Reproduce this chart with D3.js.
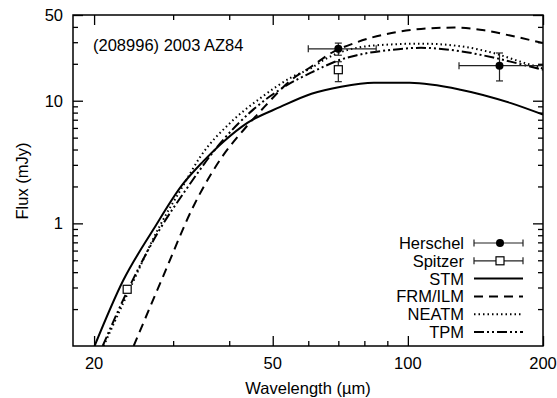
<!DOCTYPE html>
<html><head><meta charset="utf-8">
<script src="https://cdn.jsdelivr.net/npm/d3@7"></script>
<style>
body{margin:0;background:#fff;}
text{font-family:"Liberation Sans",Arial,Helvetica,sans-serif;fill:#000;}
</style></head>
<body><svg id="c" width="557" height="398"></svg>
<script>
// ---- data ----
const stmWave = [20.05, 23.2, 27.1, 31.4, 35, 39, 43.9, 52, 61, 71, 84, 101, 131, 169, 200];
const stmFlux = [0.1, 0.34, 0.89, 2.05, 3.2, 4.7, 6.6, 8.9, 11.4, 13.0, 14.0, 14.0, 12.3, 9.6, 7.7];
const frmWave = [24.5, 28.5, 33.3, 38.6, 43.1, 47.9, 55, 61, 67.5, 77, 92, 107, 127, 148, 169, 200];
const frmFlux = [0.1, 0.37, 1.38, 3.5, 5.8, 8.9, 14.8, 19, 24.5, 30, 35.7, 38.5, 39.5, 37.5, 34, 29.5];
const neatmWave = [21.0, 24, 28, 31.5, 34.5, 40.2, 47.1, 55, 61, 65, 70, 77, 92, 107, 131, 155, 179, 200];
const neatmFlux = [0.1, 0.29, 0.95, 2.0, 3.5, 6.6, 10.6, 15.5, 18.5, 21.5, 24.5, 27, 28.8, 29.2, 27.8, 24.5, 20.7, 18.3];
const tpmWave = [20.9, 23.6, 28, 32.1, 38.3, 45.3, 54, 61, 65, 70, 77, 92, 107, 131, 155, 179, 200];
const tpmFlux = [0.1, 0.27, 0.89, 1.9, 4.55, 8.5, 13.5, 17, 19, 21.3, 23.5, 26, 27, 25.3, 22.5, 19.8, 17.9];

const herschelWave = [70, 160];
const herschelFlux = [26.5, 19.3];
const herschelFluxLo = [23.5, 14.5];
const herschelFluxHi = [29.5, 24.5];
const herschelWaveLo = [60, 130];
const herschelWaveHi = [85, 240];

const spitzerWave = [23.7, 70];
const spitzerFlux = [0.29, 17.9];
const spitzerFluxLo = [0.275, 14.3];
const spitzerFluxHi = [0.305, 20.8];

const xTickLabels = [20, 50, 100, 200];
const xMinorTicks = [30, 40, 60, 70, 80, 90];
const yTickLabels = [1, 10, 50];
const yMinorTicks = [0.2,0.3,0.4,0.5,0.6,0.7,0.8,0.9,2,3,4,5,6,7,8,9,20,30,40];

const legendLabels = ["Herschel", "Spitzer", "STM", "FRM/ILM", "NEATM", "TPM"];
const title = "(208996) 2003 AZ84";

// ---- layout ----
const L = 73, R = 543, T = 15, B = 346;
const FS = 16.5;
const svg = d3.select("#c");
const x = d3.scaleLog().domain([17.95, 200]).range([L, R]);
const y = d3.scaleLog().domain([0.1, 50]).range([B, T]);

svg.append("defs").append("clipPath").attr("id","clip")
  .append("rect").attr("x",L).attr("y",T).attr("width",R-L).attr("height",B-T);

function xTicks(vals, len){
  const gb = svg.append("g").attr("transform",`translate(0,${B})`)
    .call(d3.axisTop(x).tickValues(vals).tickSize(len).tickFormat(""));
  const gt = svg.append("g").attr("transform",`translate(0,${T})`)
    .call(d3.axisBottom(x).tickValues(vals).tickSize(len).tickFormat(""));
  [gb,gt].forEach(g=>{g.select(".domain").remove(); g.selectAll("line").attr("stroke","#000").attr("stroke-width",1.3);});
}
function yTicks(vals, len){
  const gl = svg.append("g").attr("transform",`translate(${L},0)`)
    .call(d3.axisRight(y).tickValues(vals).tickSize(len).tickFormat(""));
  const gr = svg.append("g").attr("transform",`translate(${R},0)`)
    .call(d3.axisLeft(y).tickValues(vals).tickSize(len).tickFormat(""));
  [gl,gr].forEach(g=>{g.select(".domain").remove(); g.selectAll("line").attr("stroke","#000").attr("stroke-width",1.3);});
}
xTicks(xTickLabels, 10);
xTicks(xMinorTicks, 5);
yTicks(yTickLabels, 10);
yTicks(yMinorTicks, 5);

// tick labels
svg.append("g").selectAll("text").data(xTickLabels).join("text")
  .attr("x", d=>x(d)).attr("y", B+23).attr("text-anchor","middle")
  .attr("font-size",FS).text(d=>d);
svg.append("g").selectAll("text").data(yTickLabels).join("text")
  .attr("x", L-10).attr("y", d=>y(d)+6).attr("text-anchor","end")
  .attr("font-size",FS).text(d=>d);

// axis titles
svg.append("text").attr("x", 308).attr("y", 394).attr("text-anchor","middle")
  .attr("font-size",FS).text("Wavelength (µm)");
svg.append("text").attr("transform","translate(28,181) rotate(-90)").attr("text-anchor","middle")
  .attr("font-size",FS).text("Flux (mJy)");

// title
svg.append("text").attr("x", 93).attr("y", 51).attr("font-size",FS).text(title);

// curves
const line = d3.line().x(d=>x(d[0])).y(d=>y(d[1])).curve(d3.curveMonotoneX);
const cg = svg.append("g").attr("clip-path","url(#clip)");
const series = [
  {w: stmWave, f: stmFlux, dash: null},
  {w: frmWave, f: frmFlux, dash: "9,6"},
  {w: neatmWave, f: neatmFlux, dash: "1.5,3"},
  {w: tpmWave, f: tpmFlux, dash: "10,3,2,3,2,3"}
];
series.forEach(s=>{
  cg.append("path").datum(s.w.map((w,i)=>[w,s.f[i]]))
    .attr("d", line).attr("fill","none").attr("stroke","#000").attr("stroke-width",2)
    .attr("stroke-dasharray", s.dash);
});

// data points
const eg = svg.append("g").attr("clip-path","url(#clip)");
const cap = 3.5;
herschelWave.forEach((w,i)=>{
  const px = x(w), py = y(herschelFlux[i]);
  const x0 = x(herschelWaveLo[i]), x1 = x(herschelWaveHi[i]);
  const y0 = y(herschelFluxLo[i]), y1 = y(herschelFluxHi[i]);
  eg.append("line").attr("x1",x0).attr("x2",x1).attr("y1",py).attr("y2",py).attr("stroke","#222").attr("stroke-width",1.2);
  eg.append("line").attr("x1",x0).attr("x2",x0).attr("y1",py-cap).attr("y2",py+cap).attr("stroke","#222").attr("stroke-width",1.2);
  eg.append("line").attr("x1",x1).attr("x2",x1).attr("y1",py-cap).attr("y2",py+cap).attr("stroke","#222").attr("stroke-width",1.2);
  eg.append("line").attr("x1",px).attr("x2",px).attr("y1",y0).attr("y2",y1).attr("stroke","#222").attr("stroke-width",1.2);
  eg.append("line").attr("x1",px-cap).attr("x2",px+cap).attr("y1",y0).attr("y2",y0).attr("stroke","#222").attr("stroke-width",1.2);
  eg.append("line").attr("x1",px-cap).attr("x2",px+cap).attr("y1",y1).attr("y2",y1).attr("stroke","#222").attr("stroke-width",1.2);
  eg.append("circle").attr("cx",px).attr("cy",py).attr("r",4).attr("fill","#000");
});
spitzerWave.forEach((w,i)=>{
  const px = x(w), py = y(spitzerFlux[i]);
  const y0 = y(spitzerFluxLo[i]), y1 = y(spitzerFluxHi[i]);
  eg.append("line").attr("x1",px).attr("x2",px).attr("y1",y0).attr("y2",y1).attr("stroke","#222").attr("stroke-width",1.2);
  eg.append("line").attr("x1",px-cap).attr("x2",px+cap).attr("y1",y0).attr("y2",y0).attr("stroke","#222").attr("stroke-width",1.2);
  eg.append("line").attr("x1",px-cap).attr("x2",px+cap).attr("y1",y1).attr("y2",y1).attr("stroke","#222").attr("stroke-width",1.2);
  eg.append("rect").attr("x",px-4).attr("y",py-4).attr("width",8).attr("height",8)
    .attr("fill","#fff").attr("stroke","#000").attr("stroke-width",1.2);
});

// frame on top
svg.append("rect").attr("x",L).attr("y",T).attr("width",R-L).attr("height",B-T)
  .attr("fill","none").attr("stroke","#000").attr("stroke-width",1.5);

// legend
const lg = svg.append("g");
const lx0 = 474, lx1 = 523, lyy = 243, ldy = 17.8;
legendLabels.forEach((lab,i)=>{
  const yy = lyy + i*ldy;
  lg.append("text").attr("x",464).attr("y",yy+6).attr("text-anchor","end").attr("font-size",FS).text(lab);
  if(i<2){
    lg.append("line").attr("x1",lx0).attr("x2",lx1).attr("y1",yy).attr("y2",yy).attr("stroke","#222").attr("stroke-width",1.2);
    lg.append("line").attr("x1",lx0).attr("x2",lx0).attr("y1",yy-cap).attr("y2",yy+cap).attr("stroke","#222").attr("stroke-width",1.2);
    lg.append("line").attr("x1",lx1).attr("x2",lx1).attr("y1",yy-cap).attr("y2",yy+cap).attr("stroke","#222").attr("stroke-width",1.2);
    if(i===0) lg.append("circle").attr("cx",500).attr("cy",yy).attr("r",4).attr("fill","#000");
    else lg.append("rect").attr("x",496).attr("y",yy-4).attr("width",8).attr("height",8).attr("fill","#fff").attr("stroke","#000").attr("stroke-width",1.2);
  } else {
    lg.append("line").attr("x1",lx0).attr("x2",lx1).attr("y1",yy).attr("y2",yy)
      .attr("stroke","#000").attr("stroke-width",2).attr("stroke-dasharray", series[i-2].dash);
  }
});
</script></body></html>
